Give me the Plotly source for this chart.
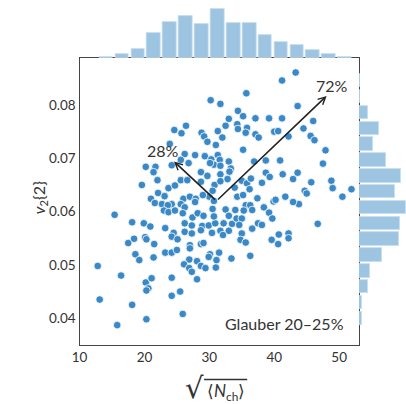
import plotly.graph_objects as go

# ---- data ----
x_vals = [43.3, 41.2, 35.7, 30.2, 31.7, 43.6, 34.4, 35.2, 33.0, 37.1, 39.2, 41.2, 46.0, 26.4, 32.5, 34.3,
          34.4, 35.8, 24.6, 25.7, 28.8, 31.3, 35.6, 37.1, 37.6, 40.0, 40.6, 44.5, 45.6, 46.2, 42.2, 29.2,
          29.7, 32.0, 31.0, 23.9, 35.2, 47.9, 26.2, 27.8, 29.3, 31.3, 25.6, 24.2, 30.3, 31.6, 33.0, 36.9,
          38.7, 40.9, 47.5, 20.2, 21.7, 26.8, 30.7, 31.7, 33.3, 21.4, 28.7, 29.7, 31.7, 33.1, 38.7, 39.3,
          41.3, 43.6, 42.9, 45.7, 48.8, 22.0, 25.6, 26.6, 28.7, 32.8, 35.0, 35.8, 36.4, 38.1, 19.6, 23.7,
          24.7, 30.8, 33.9, 36.2, 44.7, 45.0, 49.0, 51.9, 22.1, 23.1, 21.0, 26.0, 27.0, 30.0, 30.5, 34.3,
          35.2, 37.4, 39.9, 41.7, 43.8, 50.5, 21.6, 22.7, 24.2, 30.1, 31.7, 29.0, 27.9, 42.9, 40.2, 23.6,
          25.6, 23.0, 23.7, 24.7, 26.2, 27.8, 30.7, 30.5, 32.5, 34.0, 35.6, 36.3, 36.6, 38.4, 39.2, 39.7,
          15.4, 18.1, 19.9, 20.9, 23.2, 24.5, 24.2, 26.2, 27.4, 28.2, 29.1, 27.3, 28.9, 29.9, 30.9, 32.2,
          33.0, 33.5, 34.2, 35.0, 34.6, 35.3, 36.6, 37.5, 38.1, 26.2, 27.3, 28.7, 30.4, 31.7, 33.0, 32.1,
          35.0, 17.5, 18.4, 20.1, 20.3, 21.5, 25.1, 34.8, 35.6, 39.6, 40.7, 40.6, 42.2, 42.2, 46.7, 27.0,
          27.0, 28.7, 29.1, 18.6, 19.2, 21.4, 23.2, 24.2, 25.0, 26.9, 28.1, 26.1, 30.1, 31.5, 31.1, 29.9,
          33.4, 36.3, 12.8, 16.4, 20.2, 20.6, 20.3, 21.1, 24.2, 26.9, 27.3, 28.7, 29.4, 31.0, 28.1, 13.1,
          18.1, 24.2, 25.5, 20.3, 15.8, 25.9, 25.9, 30.7]
y_vals = [0.0861, 0.0846, 0.0822, 0.0809, 0.0802, 0.0798, 0.0789, 0.0779, 0.0774, 0.0775, 0.0775, 0.0775,
          0.0770, 0.0761, 0.0761, 0.0764, 0.0755, 0.0757, 0.0753, 0.0747, 0.0748, 0.0751, 0.0748, 0.0745,
          0.0739, 0.0750, 0.0751, 0.0756, 0.0742, 0.0734, 0.0741, 0.0741, 0.0731, 0.0739, 0.0725, 0.0727,
          0.0716, 0.0715, 0.0708, 0.0706, 0.0704, 0.0706, 0.0697, 0.0687, 0.0698, 0.0697, 0.0694, 0.0694,
          0.0696, 0.0696, 0.0690, 0.0684, 0.0684, 0.0691, 0.0688, 0.0686, 0.0681, 0.0674, 0.0674, 0.0667,
          0.0670, 0.0675, 0.0673, 0.0665, 0.0670, 0.0673, 0.0661, 0.0655, 0.0658, 0.0659, 0.0659, 0.0659,
          0.0656, 0.0661, 0.0658, 0.0653, 0.0662, 0.0654, 0.0650, 0.0644, 0.0649, 0.0650, 0.0645, 0.0642,
          0.0639, 0.0634, 0.0644, 0.0642, 0.0635, 0.0629, 0.0624, 0.0624, 0.0628, 0.0628, 0.0639, 0.0628,
          0.0631, 0.0625, 0.0619, 0.0628, 0.0614, 0.0628, 0.0616, 0.0614, 0.0614, 0.0691, 0.0657, 0.0631,
          0.0624, 0.0618, 0.0622, 0.0612, 0.0614, 0.0602, 0.0599, 0.0602, 0.0608, 0.0618, 0.0620, 0.0605,
          0.0604, 0.0603, 0.0612, 0.0612, 0.0603, 0.0608, 0.0598, 0.0587, 0.0594, 0.0580, 0.0578, 0.0572,
          0.0569, 0.0560, 0.0553, 0.0578, 0.0589, 0.0597, 0.0592, 0.0574, 0.0573, 0.0574, 0.0578, 0.0578,
          0.0592, 0.0577, 0.0587, 0.0587, 0.0575, 0.0602, 0.0568, 0.0578, 0.0575, 0.0562, 0.0559, 0.0565,
          0.0560, 0.0564, 0.0564, 0.0556, 0.0559, 0.0541, 0.0549, 0.0552, 0.0548, 0.0539, 0.0548, 0.0547,
          0.0542, 0.0547, 0.0557, 0.0539, 0.0559, 0.0550, 0.0577, 0.0537, 0.0531, 0.0539, 0.0541, 0.0520,
          0.0509, 0.0514, 0.0523, 0.0523, 0.0528, 0.0510, 0.0507, 0.0501, 0.0520, 0.0523, 0.0509, 0.0515,
          0.0512, 0.0517, 0.0498, 0.0480, 0.0467, 0.0456, 0.0452, 0.0475, 0.0476, 0.0494, 0.0487, 0.0498,
          0.0494, 0.0495, 0.0473, 0.0435, 0.0425, 0.0442, 0.0450, 0.0398, 0.0387, 0.0408, 0.0597, 0.0591]

# marginal histograms (bin centres and counts)
top_bin_width = 2.452
top_centers = [14.10, 16.55, 19.00, 21.45, 23.90, 26.35, 28.80, 31.25,
               33.70, 36.15, 38.60, 41.05, 43.50, 45.95, 48.40, 50.85]
top_counts = [1, 3, 7, 19, 28, 32, 26, 38, 27, 27, 18, 12, 10, 6, 3, 1]

right_bin_width = 0.002972
right_centers = [0.03997, 0.04294, 0.04591, 0.04888, 0.05185, 0.05483, 0.05780, 0.06077,
                 0.06374, 0.06671, 0.06969, 0.07266, 0.07563, 0.07860, 0.08157, 0.08455]
right_counts = [2, 2, 7, 9, 18, 31, 32, 37, 28, 33, 21, 11, 16, 7, 1, 1]

x_ticks = [10, 20, 30, 40, 50]
y_ticks = [0.04, 0.05, 0.06, 0.07, 0.08]

arrow_origin = (31.1, 0.0620)
arrow_tips = [(24.55, 0.0694), (48.07, 0.0817)]
arrow_labels = ["28%", "72%"]
label_pos = [(22.9, 0.0714), (48.97, 0.0836)]

X_RANGE = [10, 53.05]
Y_RANGE = [0.03497, 0.08882]

W, H = 406, 404
main_x = [73 / W, 358 / W]
main_y = [1 - 345 / H, 1 - 58 / H]

PT = '#3a88c6'
BAR = '#9dc4e1'
FONT = 'Lato'
TXT = '#333333'

fig = go.Figure()
fig.add_trace(go.Bar(x=top_centers, y=top_counts, width=top_bin_width * 0.86,
                     marker=dict(color=BAR, line=dict(width=0.8, color='#c7deef')),
                     xaxis='x2', yaxis='y2', hoverinfo='skip'))
fig.add_trace(go.Bar(y=right_centers, x=right_counts, orientation='h', width=right_bin_width * 0.85,
                     marker=dict(color=BAR, line=dict(width=0.8, color='#c7deef')),
                     xaxis='x3', yaxis='y3', hoverinfo='skip'))
fig.add_trace(go.Scatter(x=x_vals, y=y_vals, mode='markers',
                         marker=dict(size=7.6, color=PT, line=dict(color='white', width=0.8)),
                         xaxis='x', yaxis='y'))

axis_common = dict(showgrid=False, zeroline=False)
fig.update_layout(
    width=W, height=H, margin=dict(l=0, r=0, t=0, b=0),
    paper_bgcolor='white', plot_bgcolor='rgba(0,0,0,0)', showlegend=False,
    font=dict(family=FONT, color=TXT),
    xaxis=dict(domain=main_x, range=X_RANGE, anchor='y', tickvals=x_ticks,
               ticks='', showline=True, mirror=True, linecolor='#444444', linewidth=1.3,
               tickfont=dict(size=13.5, color=TXT, family=FONT), **axis_common),
    yaxis=dict(domain=main_y, range=Y_RANGE, anchor='x', tickvals=y_ticks, tickformat='.2f',
               ticks='', showline=True, mirror=True, linecolor='#444444', linewidth=1.3,
               tickfont=dict(size=13.5, color=TXT, family=FONT), **axis_common),
    xaxis2=dict(domain=main_x, range=X_RANGE, anchor='y2', visible=False, **axis_common),
    yaxis2=dict(domain=[main_y[1], 1], range=[0, 44.6], anchor='x2', visible=False, **axis_common),
    xaxis3=dict(domain=[main_x[1], 1], range=[0, 36.9], anchor='y3', visible=False, **axis_common),
    yaxis3=dict(domain=main_y, range=Y_RANGE, anchor='x3', visible=False, **axis_common),
    bargap=0,
)

# arrows
for (tx, ty) in arrow_tips:
    fig.add_annotation(x=tx, y=ty, ax=arrow_origin[0], ay=arrow_origin[1], xref='x', yref='y',
                       axref='x', ayref='y', showarrow=True, arrowhead=5, arrowsize=0.9,
                       arrowwidth=1.6, arrowcolor='#222222', standoff=0, text='')
for (lx, ly), lab in zip(label_pos, arrow_labels):
    fig.add_annotation(x=lx, y=ly, xref='x', yref='y', text=lab, showarrow=False,
                       font=dict(size=16, color=TXT, family=FONT))

fig.add_annotation(x=345 / W, y=1 - 323 / H, xref='paper', yref='paper', xanchor='right',
                   yanchor='middle', text='Glauber 20–25%', showarrow=False,
                   font=dict(size=16, color=TXT, family=FONT))

# axis titles
fig.add_annotation(x=190 / W, y=1 - 406 / H, xref='paper', yref='paper', yanchor='bottom',
                   text='√', showarrow=False, borderpad=0,
                   font=dict(size=29, color=TXT, family='DejaVu Sans'))
fig.add_annotation(x=19 / W, y=1 - 198 / H, xref='paper', yref='paper', textangle=-90,
                   text='<i>v</i><sub>2</sub>{2}', showarrow=False,
                   font=dict(size=16, color=TXT, family=FONT))
fig.add_annotation(x=222 / W, y=1 - 405 / H, xref='paper', yref='paper', yanchor='bottom',
                   text='⟨<i>N</i><sub>ch</sub>⟩', showarrow=False, borderpad=0,
                   font=dict(size=17, color=TXT, family=FONT))
fig.add_shape(type='line', xref='paper', yref='paper', x0=200 / W, x1=244 / W,
              y0=1 - 379.5 / H, y1=1 - 379.5 / H, line=dict(color=TXT, width=1.3))

fig.write_html("out.html")
